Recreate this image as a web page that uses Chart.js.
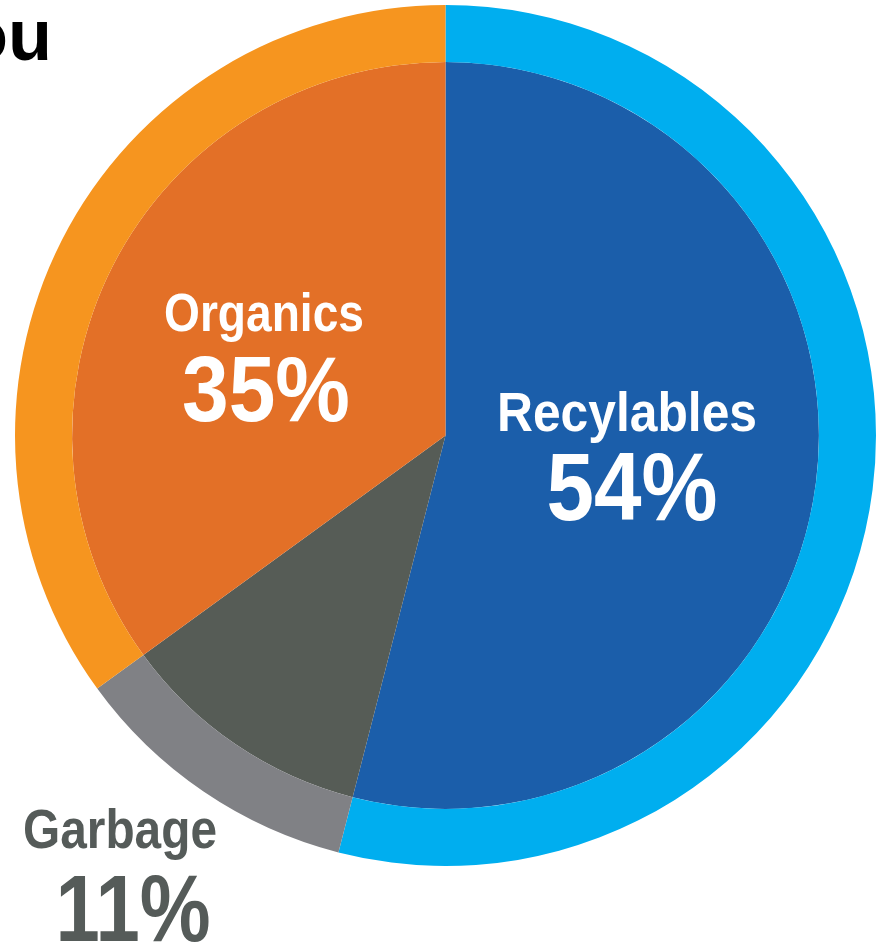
<!DOCTYPE html>
<html>
<head>
<meta charset="utf-8">
<script src="https://cdn.jsdelivr.net/npm/chart.js@4/dist/chart.umd.min.js"></script>
<style>
  html, body { margin: 0; padding: 0; background: #fff; overflow: hidden; }
  #wrap { position: relative; width: 885px; height: 946px; }
</style>
</head>
<body>
<div id="wrap"><canvas id="wasteChart"></canvas></div>
<script>
const categories = ['Recylables', 'Garbage', 'Organics'];
const shares = [54, 11, 35];
const outerColors = ['#00aeef', '#808185', '#f6951f'];
const innerColors = ['#1b5eaa', '#565c56', '#e37027'];

// label text, drawn on top of the pie
const labelLines = [
  { text: 'Organics', x: 264, y: 331, h: 38, w: 200, color: '#fff' },
  { text: shares[2] + '%', x: 266, y: 421, h: 67, w: 168, color: '#fff' },
  { text: 'Recylables', x: 627, y: 431, h: 40, w: 260, color: '#fff' },
  { text: shares[0] + '%', x: 632, y: 520, h: 70, w: 171, color: '#fff' },
  { text: 'Garbage', x: 120, y: 848, h: 40, w: 194, color: '#555b59' },
  { text: shares[1] + '%', x: 133, y: 941, h: 68, w: 155, color: '#555b59' }
];

const labelPlugin = {
  id: 'sliceLabels',
  afterDraw(chart) {
    const ctx = chart.ctx;
    ctx.save();
    ctx.textBaseline = 'alphabetic';
    ctx.textAlign = 'center';
    labelLines.forEach(l => {
      const size = Math.round(l.h / 0.72);
      ctx.font = 'bold ' + size + 'px "Liberation Sans Narrow", "Liberation Sans", sans-serif';
      const mw = ctx.measureText(l.text).width;
      ctx.save();
      ctx.translate(l.x, l.y);
      ctx.scale(l.w / mw, 1);
      ctx.fillStyle = l.color;
      ctx.fillText(l.text, 0, 0);
      ctx.restore();
    });
    // cut-off heading at the top left
    ctx.font = 'bold 72px "Liberation Sans", Arial, sans-serif';
    ctx.textAlign = 'right';
    ctx.fillStyle = '#000';
    ctx.fillText('you', 52, 60);
    ctx.restore();
  }
};

new Chart(document.getElementById('wasteChart'), {
  type: 'pie',
  data: {
    labels: categories,
    datasets: [
      {
        data: shares,
        backgroundColor: outerColors,
        borderWidth: 0,
        weight: 57
      },
      {
        data: shares,
        backgroundColor: innerColors,
        borderWidth: 0,
        weight: 373
      }
    ]
  },
  options: {
    responsive: true,
    maintainAspectRatio: false,
    animation: false,
    layout: { padding: { left: 15, right: 9, top: 5, bottom: 80 } },
    plugins: {
      legend: { display: false },
      tooltip: { enabled: false }
    }
  },
  plugins: [labelPlugin]
});
</script>
</body>
</html>
